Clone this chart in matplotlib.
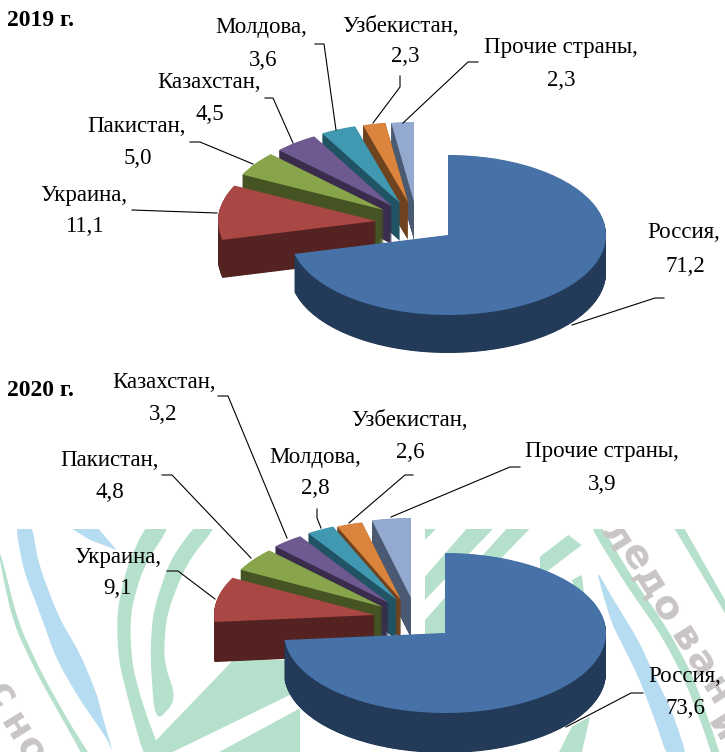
import matplotlib
matplotlib.use("Agg")
import matplotlib.pyplot as plt
from matplotlib.patches import Wedge, Polygon

W, H = 725, 752
plt.rcParams['font.family'] = ['Liberation Serif', 'DejaVu Serif']

# ---- data ----
categories = ['Россия', 'Украина', 'Пакистан', 'Казахстан', 'Молдова', 'Узбекистан', 'Прочие страны']
values_2019 = [71.2, 11.1, 5.0, 4.5, 3.6, 2.3, 2.3]
values_2020 = [73.6, 9.1, 4.8, 3.2, 2.8, 2.6, 3.9]
years = ['2019 г.', '2020 г.']

# ---- style ----
top_colors = ['#4672A7', '#A84744', '#88A54C', '#6F5991', '#4198B1', '#DB843D', '#93A9CF']
side_colors = ['#233A58', '#542220', '#465423', '#392C4C', '#205363', '#6F431D', '#4A5A72']

# apex of every slice's upper face in pixels (the slices are pulled apart by hand in the source)
apex_2019 = [(448, 235), (376, 221), (384, 210), (392, 206), (400, 203), (408, 202), (414, 202)]
apex_2020 = [(445, 633), (375, 615), (383, 607), (389, 603), (397, 600), (401, 600), (411, 598)]

label_pos_2019 = [(684, 232, 685, 265), (84, 194, 84, 225), (137, 126, 138, 157), (209, 82, 210, 113),
                  (261, 27, 263, 59), (401, 25, 405, 55), (561, 47, 561, 80)]
label_pos_2020 = [(685, 676, 685, 708), (118, 556, 118, 588), (110, 459, 110, 491), (164, 381, 163, 414),
                  (315, 456, 315, 487), (410, 419, 410, 451), (602, 450, 602, 483)]

leaders = [
    [(572, 325), (655, 298), (664, 298)], [(132, 210), (217, 213)], [(190, 142), (200, 142), (253, 164)],
    [(265, 98), (273, 98), (293, 143)], [(315, 44), (324, 44), (336, 130)], [(400, 76), (400, 87), (373, 123)],
    [(478, 62), (468, 62), (403, 123)],
    [(643, 693), (631, 693), (566, 727)], [(167, 571), (178, 571), (215, 599)], [(162, 475), (172, 475), (251, 558)],
    [(218, 396), (228, 396), (287, 538)], [(317, 509), (317, 518), (321, 528)], [(413, 475), (405, 475), (349, 523)],
    [(520, 467), (510, 467), (391, 517)],
]

fig = plt.figure(figsize=(W / 100, H / 100), dpi=100, facecolor='white')

# ---- watermark background, only below y = 529 ----
BG_TOP = 529
bg = fig.add_axes([0, 0, 1, (H - BG_TOP) / H])
bg.set_xlim(0, W)
bg.set_ylim(H, BG_TOP)
bg.axis('off')
GREEN = '#B5E0CB'
BLUE = '#B5DCF0'
GREY = '#C9C5C5'


def left(pts):
    return [(x / 3, 520 + y / 3) for x, y in pts]


def right(pts):
    return [(425 + x / 3, 520 + y / 3) for x, y in pts]


def smooth(pts, rounds=2):
    # corner cutting, for the curved bands of the watermark
    for _ in range(rounds):
        new = []
        for a, b in zip(pts, pts[1:] + pts[:1]):
            new.append((0.8 * a[0] + 0.2 * b[0], 0.8 * a[1] + 0.2 * b[1]))
            new.append((0.2 * a[0] + 0.8 * b[0], 0.2 * a[1] + 0.8 * b[1]))
        pts = new
    return pts


curved = [
    (left([(45, 10), (70, 150), (120, 280), (170, 420), (240, 540), (320, 655), (340, 700), (305, 580), (290, 520),
           (240, 400), (175, 290), (115, 130), (95, 10)]), BLUE),
    (left([(0, 130), (40, 310), (110, 460), (200, 620), (255, 720), (280, 720), (215, 620), (125, 460), (55, 310),
           (0, 90)]), GREEN),
    (left([(440, 10), (380, 140), (350, 280), (355, 420), (390, 560), (435, 720), (490, 720), (430, 560), (395, 430),
           (390, 280), (430, 140), (515, 10)]), GREEN),
    (left([(590, 10), (510, 120), (460, 270), (450, 400), (465, 610), (530, 540), (490, 420), (500, 280), (560, 130),
           (655, 10)]), GREEN),
    (right([(490, 10), (525, 10), (620, 170), (730, 330), (805, 470), (865, 640), (890, 720), (865, 720), (840, 640),
            (775, 470), (705, 340), (600, 190)]), GREEN),
    (right([(515, 150), (560, 230), (640, 360), (690, 470), (740, 570), (790, 720), (730, 720), (690, 600), (640, 470),
            (600, 390), (560, 310), (530, 210)]), BLUE),
]
straight = [
    (left([(205, 20), (290, 20), (350, 90), (270, 60)]), BLUE),
    (left([(445, 685), (700, 420), (900, 420), (900, 510), (510, 700), (445, 700)]), GREEN),
    (left([(650, 700), (900, 565), (900, 700)]), GREEN),
    (right([(0, 20), (40, 20), (0, 60)]), GREEN),
    (right([(0, 170), (130, 20), (210, 20), (0, 240)]), GREEN),
    (right([(0, 300), (250, 20), (320, 20), (60, 290), (60, 340), (0, 345)]), GREEN),
    (right([(345, 110), (430, 45), (470, 75), (345, 170)]), GREEN),
    (right([(440, 180), (470, 165), (480, 240), (455, 220)]), GREEN),
    (right([(745, 20), (775, 20), (900, 240), (900, 280)]), GREEN),
    (right([(470, 700), (495, 590), (440, 620), (400, 700)]), GREEN),
]
for pts, col in curved:
    bg.add_patch(Polygon(smooth(pts), closed=True, fc=col, ec='none'))
for pts, col in straight:
    bg.add_patch(Polygon(pts, closed=True, fc=col, ec='none'))

wm_letters = [('л', 616, 538), ('е', 635, 557), ('д', 650, 583), ('о', 665, 608), ('в', 685, 640), ('а', 700, 663),
              ('н', 716, 692), ('и', 722, 728), ('с', 1, 695), ('н', 15, 728), ('о', 30, 750)]
for ch, x, y in wm_letters:
    bg.text(x, y, ch, fontsize=28, color=GREY, rotation=-58, ha='center', va='center',
            family='DejaVu Sans', fontweight='bold', clip_on=True)


# ---- pies ----
def draw_pie(values, apexes, rx, ry, depth):
    cx, cy = apexes[0]
    ax = fig.add_axes([0, 0, 1, 1])
    wedges, _ = ax.pie(values, startangle=90, counterclock=False, colors=top_colors,
                       wedgeprops=dict(linewidth=0))
    ax.set_aspect('auto')
    ax.set_xlim(-cx / rx, (W - cx) / rx)
    ax.set_ylim(-(H - cy) / ry, cy / ry)
    ax.patch.set_visible(False)
    n = len(values)
    for i, w in enumerate(wedges):
        ax_, ay_ = apexes[i]
        x0 = (ax_ - cx) / rx
        y0 = (cy - ay_) / ry
        base = 10 * (n - i)
        w.set_center((x0, y0))
        w.set_zorder(base + 1)
        for k in range(depth * 2, 0, -1):
            ax.add_patch(Wedge((x0, y0 - k / 2 / ry), 1, w.theta1, w.theta2, fc=side_colors[i], ec='none', lw=0,
                               zorder=base))


draw_pie(values_2019, apex_2019, 158, 80, 38)
draw_pie(values_2020, apex_2020, 161, 80, 40)

# ---- labels in pixel coordinates ----
ov = fig.add_axes([0, 0, 1, 1])
ov.set_xlim(0, W)
ov.set_ylim(H, 0)
ov.axis('off')
ov.patch.set_visible(False)

FS = 16.5
DY = 1
for vals, poss in ((values_2019, label_pos_2019), (values_2020, label_pos_2020)):
    for name, v, (x1, y1, x2, y2) in zip(categories, vals, poss):
        ov.text(x1, y1 + DY, f'{name},', fontsize=FS, ha='center', va='center', color='black')
        ov.text(x2, y2 + DY, f'{v:.1f}'.replace('.', ','), fontsize=FS, ha='center', va='center', color='black')

for line in leaders:
    ov.plot([p[0] for p in line], [p[1] for p in line], color='black', lw=0.8)

ov.text(7, 20, years[0], fontsize=17, fontweight='bold', ha='left', va='center')
ov.text(7, 390, years[1], fontsize=17, fontweight='bold', ha='left', va='center')

fig.savefig('out.png', dpi=100)
